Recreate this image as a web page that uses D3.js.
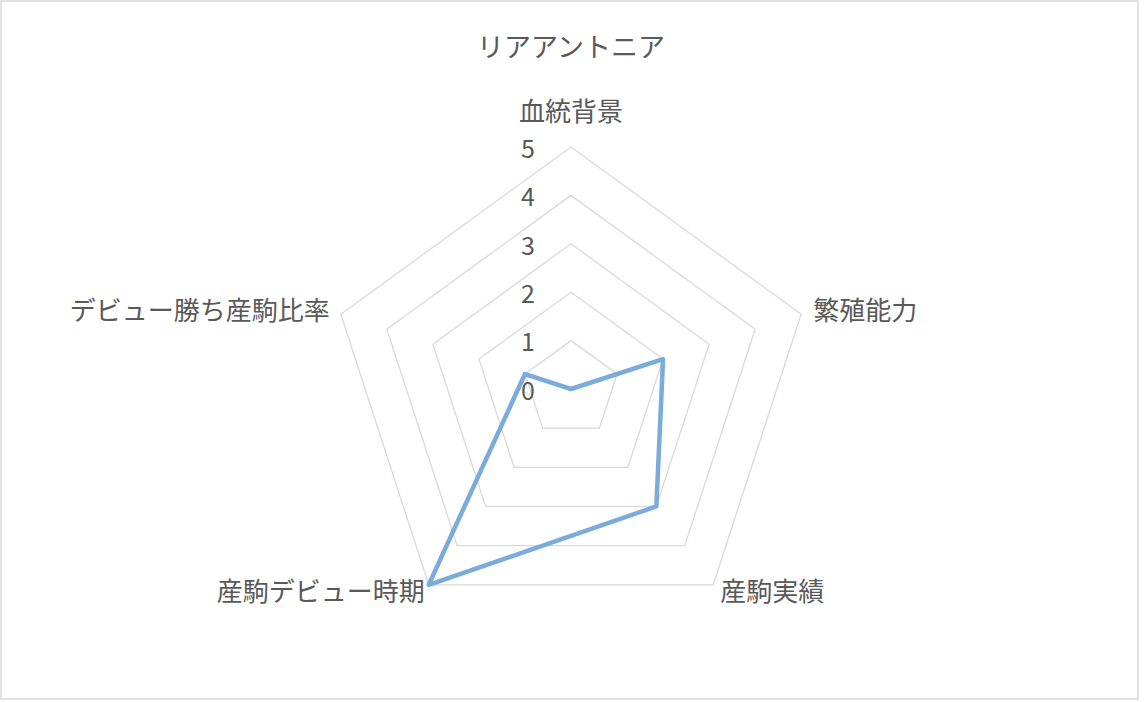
<!DOCTYPE html>
<html>
<head>
<meta charset="utf-8">
<script src="https://cdn.jsdelivr.net/npm/d3@7"></script>
<style>
  body { margin: 0; background: #fff; }
  svg { display: block; }
  text { font-family: "Noto Sans CJK JP", "Noto Sans", sans-serif; fill: #595959; }
</style>
</head>
<body>
<div class="chart"></div>
<script>
const title = 'リアアントニア'
const categories = ['血統背景', '繁殖能力', '産駒実績', '産駒デビュー時期', 'デビュー勝ち産駒比率']
const values = [0, 2, 3, 5, 1]
const ticks = [0, 1, 2, 3, 4, 5]

const width = 1144, height = 702
const cx = 571, cy = 389
const radius = 242

const svg = d3.select('.chart').append('svg').attr('width', width).attr('height', height)

svg.append('rect')
  .attr('x', 1).attr('y', 1)
  .attr('width', 1137).attr('height', 698)
  .attr('fill', '#fff')
  .attr('stroke', '#d9d9d9')
  .attr('stroke-width', 1.5)

const g = svg.append('g').attr('transform', `translate(${cx},${cy})`)

const r = d3.scaleLinear().domain([0, 5]).range([0, radius])
const angle = d3.scaleBand().domain(categories).range([0, 2 * Math.PI]).align(0).paddingInner(0).paddingOuter(0)
const ang = c => angle(c)
const pt = (c, v) => [Math.sin(ang(c)) * r(v), -Math.cos(ang(c)) * r(v)]

// grid rings
g.selectAll('.ring')
  .data(ticks.filter(t => t > 0))
  .join('path')
  .attr('class', 'ring')
  .attr('d', t => d3.line()(categories.map(c => pt(c, t))) + 'Z')
  .attr('fill', 'none')
  .attr('stroke', '#d9d9d9')
  .attr('stroke-width', 1.3)

// tick labels
g.selectAll('.tick')
  .data(ticks)
  .join('text')
  .attr('class', 'tick')
  .attr('x', -36)
  .attr('y', t => -r(t) + 2)
  .attr('dy', '0.35em')
  .attr('text-anchor', 'end')
  .attr('font-size', 25)
  .text(t => t)

// category labels
const labelPos = [
  { dx: 0, dy: -35, anchor: 'middle' },
  { dx: 12, dy: -3, anchor: 'start' },
  { dx: 7, dy: 7, anchor: 'start' },
  { dx: -4, dy: 7, anchor: 'end' },
  { dx: -11, dy: -3, anchor: 'end' }
]
g.selectAll('.cat')
  .data(categories)
  .join('text')
  .attr('class', 'cat')
  .attr('x', (c, i) => pt(c, 5)[0] + labelPos[i].dx)
  .attr('y', (c, i) => pt(c, 5)[1] + labelPos[i].dy)
  .attr('dy', '0.35em')
  .attr('text-anchor', (c, i) => labelPos[i].anchor)
  .attr('font-size', 26)
  .text(c => c)

// series
g.append('path')
  .datum(categories.map((c, i) => pt(c, values[i])))
  .attr('d', d => d3.line()(d) + 'Z')
  .attr('fill', 'none')
  .attr('stroke', '#7aabdb')
  .attr('stroke-width', 4.5)
  .attr('stroke-linejoin', 'round')

svg.append('text')
  .attr('x', cx)
  .attr('y', 48)
  .attr('dy', '0.35em')
  .attr('text-anchor', 'middle')
  .attr('font-size', 27)
  .text(title)
</script>
</body>
</html>
